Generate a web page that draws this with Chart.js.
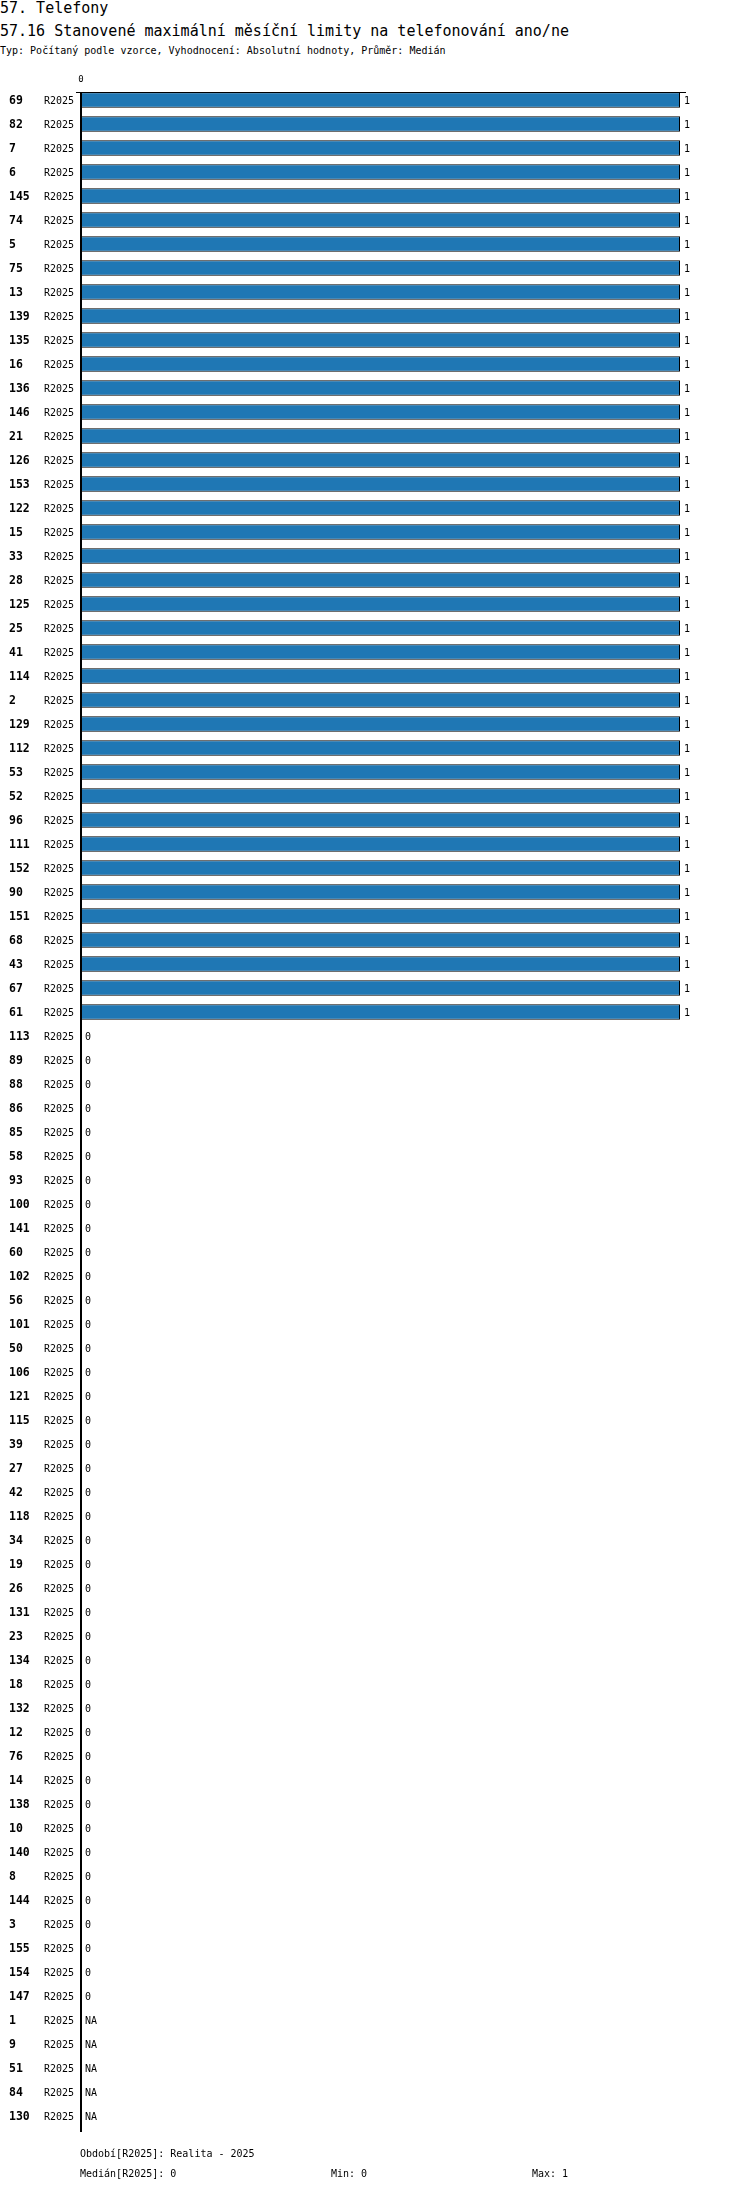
<!DOCTYPE html>
<html>
<head>
<meta charset="utf-8">
<script src="https://cdn.jsdelivr.net/npm/chart.js@4/dist/chart.umd.min.js"></script>
<style>
  html, body { margin: 0; padding: 0; background: #fff; }
  body { width: 750px; height: 2192px; position: relative; overflow: hidden; font-family: "DejaVu Sans Mono", monospace; color: #000; }
  canvas { position: absolute; left: 0; top: 0; }
  .t { position: absolute; white-space: pre; }
  .big { font-size: 15px; line-height: 16px; }
  .small { font-size: 10px; line-height: 12px; }
</style>
</head>
<body>
<div class="t big" style="left:0;top:0">57. Telefony</div>
<div class="t big" style="left:0;top:23px">57.16 Stanovené maximální měsíční limity na telefonování ano/ne</div>
<div class="t small" style="left:0;top:45px">Typ: Počítaný podle vzorce, Vyhodnocení: Absolutní hodnoty, Průměr: Medián</div>
<canvas id="chart" width="750" height="2192"></canvas>
<div class="t small" style="left:80px;top:2148px">Období[R2025]: Realita - 2025</div>
<div class="t small" style="left:80px;top:2168px">Medián[R2025]: 0</div>
<div class="t small" style="left:331px;top:2168px">Min: 0</div>
<div class="t small" style="left:532px;top:2168px">Max: 1</div>
<script>
// row ids as read top to bottom
const regions = [
  "69","82","7","6","145","74","5","75","13","139","135","16","136","146","21","126","153","122","15","33",
  "28","125","25","41","114","2","129","112","53","52","96","111","152","90","151","68","43","67","61",
  "113","89","88","86","85","58","93","100","141","60","102","56","101","50","106","121","115","39","27","42",
  "118","34","19","26","131","23","134","18","132","12","76","14","138","10","140","8","144","3","155","154","147",
  "1","9","51","84","130"
];
const period = "R2025";
// null = NA
const values = [
  1,1,1,1,1,1,1,1,1,1,1,1,1,1,1,1,1,1,1,1,
  1,1,1,1,1,1,1,1,1,1,1,1,1,1,1,1,1,1,1,
  0,0,0,0,0,0,0,0,0,0,0,0,0,0,0,0,0,0,0,0,
  0,0,0,0,0,0,0,0,0,0,0,0,0,0,0,0,0,0,0,0,0,
  null,null,null,null,null
];
const xTicks = [0];

const rowLabels = {
  id: "rowLabels",
  afterDatasetsDraw(chart) {
    const { ctx, scales: { x, y } } = chart;
    const meta = chart.getDatasetMeta(0);
    ctx.save();
    ctx.fillStyle = "#000";
    ctx.textBaseline = "middle";
    ctx.textAlign = "left";
    regions.forEach((r, i) => {
      const py = y.getPixelForValue(i);
      ctx.font = "bold 11.5px 'DejaVu Sans Mono'";
      ctx.fillText(r, 9, py + 1);
      ctx.font = "10px 'DejaVu Sans Mono'";
      ctx.fillText(period, 44, py + 1);
      const v = values[i];
      const px = v == null ? x.getPixelForValue(0) : x.getPixelForValue(v);
      ctx.fillText(v == null ? "NA" : String(v), px + 4, py + 1);
    });
    // axis lines
    const first = meta.data[0];
    const top = Math.round(first.y - first.height / 2);
    ctx.strokeStyle = "#000";
    ctx.lineWidth = 1;
    ctx.beginPath();
    ctx.moveTo(x.left - 5, top + 0.5);
    ctx.lineTo(x.right + 6, top + 0.5);
    ctx.stroke();
    ctx.lineWidth = 2;
    ctx.beginPath();
    ctx.moveTo(x.left, top);
    ctx.lineTo(x.left, y.bottom + 4);
    ctx.stroke();
    ctx.restore();
  }
};

new Chart(document.getElementById("chart"), {
  type: "bar",
  data: {
    labels: regions,
    datasets: [{
      data: values,
      backgroundColor: "#1f77b4",
      borderColor: "#000",
      borderWidth: 1,
      borderSkipped: false,
      barPercentage: 0.64,
      categoryPercentage: 1
    }]
  },
  options: {
    indexAxis: "y",
    responsive: false,
    devicePixelRatio: 1,
    animation: false,
    layout: { padding: { left: 81, right: 70, top: 72, bottom: 64 } },
    plugins: { legend: { display: false }, tooltip: { enabled: false } },
    scales: {
      x: {
        type: "linear",
        position: "top",
        min: 0,
        max: 1,
        grid: { display: false, drawTicks: false },
        border: { display: false },
        afterBuildTicks: s => { s.ticks = xTicks.map(v => ({ value: v })); },
        afterFit: s => { s.height = 16; },
        ticks: { color: "#000", padding: 3, font: { family: "DejaVu Sans Mono", size: 9 } }
      },
      y: {
        type: "category",
        offset: true,
        grid: { display: false },
        border: { display: false },
        ticks: { display: false },
        afterFit: s => { s.width = 0; }
      }
    }
  },
  plugins: [rowLabels]
});
</script>
</body>
</html>
